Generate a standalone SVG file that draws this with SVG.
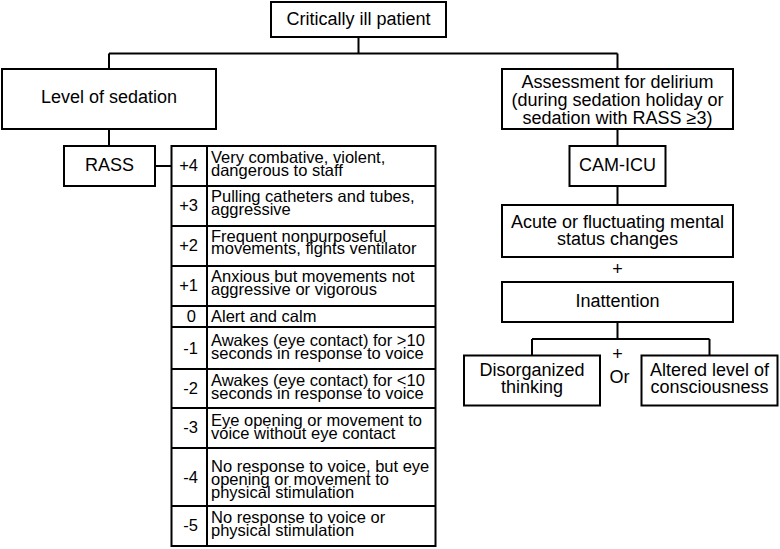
<svg xmlns="http://www.w3.org/2000/svg" width="780" height="549" viewBox="0 0 780 549">
<style>
  .box { fill: #fff; stroke: #000; stroke-width: 2; }
  .ln { fill: none; stroke: #000; stroke-width: 2; }
  .h { font-family: "Liberation Sans", Arial, sans-serif; font-size: 18px; fill: #000; text-anchor: middle; }
  .t { font-family: "Liberation Sans", Arial, sans-serif; font-size: 16.5px; fill: #000; }
  .lbl { font-family: "Liberation Sans", Arial, sans-serif; font-size: 16.5px; fill: #000; text-anchor: end; }
</style>
<rect x="0" y="0" width="780" height="549" fill="#fff"/>
<g id="connectors">
  <path class="ln" d="M358.5,37 V53.5 M109,53.5 H617.5 M109,53.5 V69 M617.5,53.5 V69"/>
  <path class="ln" d="M109,129 V146"/>
  <path class="ln" d="M155,166 H171.5"/>
  <path class="ln" d="M617.5,129 V146 M617.5,186 V205"/>
  <path class="ln" d="M617.5,322 V339 M532,339 H709.5 M532,339 V355.5 M709.5,339 V355.5"/>
</g>
<g id="critically-ill">
  <rect class="box" x="271" y="2" width="175" height="35"/>
  <text class="h" x="358.5" y="25">Critically ill patient</text>
</g>
<g id="level-of-sedation">
  <rect class="box" x="2" y="69" width="214" height="60"/>
  <text class="h" x="109" y="103">Level of sedation</text>
</g>
<g id="assessment">
  <rect class="box" x="502" y="69" width="231" height="60"/>
  <text class="h" x="617.5" y="87.5">Assessment for delirium</text>
  <text class="h" x="617.5" y="105.5">(during sedation holiday or</text>
  <text class="h" x="617.5" y="123.5">sedation with RASS ≥3)</text>
</g>
<g id="rass">
  <rect class="box" x="64" y="146" width="91" height="40"/>
  <text class="h" x="109.5" y="171">RASS</text>
</g>
<g id="rass-table">
  <rect class="box" x="171.5" y="146" width="264" height="400"/>
  <path class="ln" d="M207,146 V546 M171.5,186 H435.5 M171.5,226 H435.5 M171.5,266 H435.5 M171.5,306 H435.5 M171.5,327 H435.5 M171.5,369 H435.5 M171.5,408 H435.5 M171.5,448 H435.5 M171.5,506 H435.5"/>
  <text class="lbl" x="198" y="171">+4</text>
  <text class="t" x="211" y="163">Very combative, violent,</text>
  <text class="t" x="211" y="176">dangerous to staff</text>
  <text class="lbl" x="198" y="211">+3</text>
  <text class="t" x="211" y="202">Pulling catheters and tubes,</text>
  <text class="t" x="211" y="215">aggressive</text>
  <text class="lbl" x="198" y="251">+2</text>
  <text class="t" x="211" y="241.5">Frequent nonpurposeful</text>
  <text class="t" x="211" y="254">movements, fights ventilator</text>
  <text class="lbl" x="198" y="291">+1</text>
  <text class="t" x="211" y="282">Anxious but movements not</text>
  <text class="t" x="211" y="295">aggressive or vigorous</text>
  <text class="lbl" x="196" y="322">0</text>
  <text class="t" x="211" y="322">Alert and calm</text>
  <text class="lbl" x="198" y="353.5">-1</text>
  <text class="t" x="211" y="345.5">Awakes (eye contact) for &gt;10</text>
  <text class="t" x="211" y="358.5">seconds in response to voice</text>
  <text class="lbl" x="198" y="394">-2</text>
  <text class="t" x="211" y="385.5">Awakes (eye contact) for &lt;10</text>
  <text class="t" x="211" y="398.5">seconds in response to voice</text>
  <text class="lbl" x="198" y="433">-3</text>
  <text class="t" x="211" y="425.5">Eye opening or movement to</text>
  <text class="t" x="211" y="438.5">voice without eye contact</text>
  <text class="lbl" x="198" y="483">-4</text>
  <text class="t" x="211" y="472">No response to voice, but eye</text>
  <text class="t" x="211" y="485">opening or movement to</text>
  <text class="t" x="211" y="498">physical stimulation</text>
  <text class="lbl" x="198" y="531">-5</text>
  <text class="t" x="211" y="523">No response to voice or</text>
  <text class="t" x="211" y="536">physical stimulation</text>
</g>
<g id="cam-icu">
  <rect class="box" x="569.5" y="146" width="96" height="40"/>
  <text class="h" x="617.5" y="171">CAM-ICU</text>
</g>
<g id="acute">
  <rect class="box" x="502" y="205" width="231" height="52"/>
  <text class="h" x="617.5" y="227.5">Acute or fluctuating mental</text>
  <text class="h" x="617.5" y="245">status changes</text>
</g>
<g id="plus1">
  <text class="h" x="617.5" y="275">+</text>
</g>
<g id="inattention">
  <rect class="box" x="502" y="282" width="231" height="40"/>
  <text class="h" x="617.5" y="307">Inattention</text>
</g>
<g id="disorganized">
  <rect class="box" x="464" y="355.5" width="136" height="50"/>
  <text class="h" x="532" y="376">Disorganized</text>
  <text class="h" x="532" y="393">thinking</text>
</g>
<g id="plus-or">
  <text class="h" x="617.5" y="360">+</text>
  <text class="h" x="619.5" y="382.5">Or</text>
</g>
<g id="altered">
  <rect class="box" x="641.5" y="355.5" width="136" height="50"/>
  <text class="h" x="709.5" y="376">Altered level of</text>
  <text class="h" x="709.5" y="393">consciousness</text>
</g>
</svg>
